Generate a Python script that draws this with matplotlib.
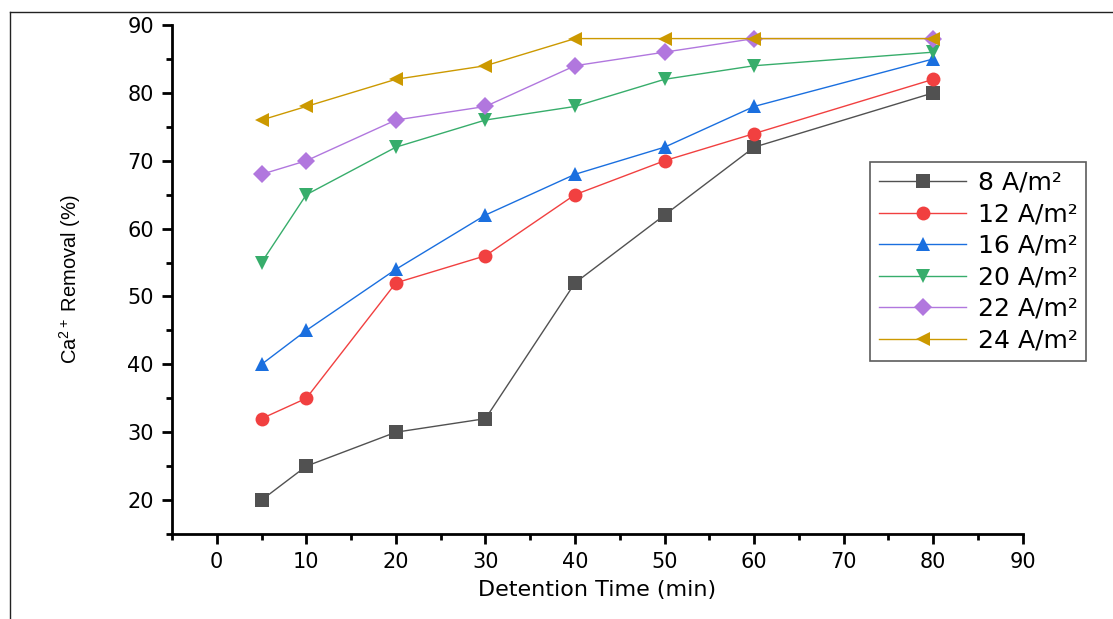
import numpy as np
import matplotlib.pyplot as plt
from matplotlib.lines import Line2D

# ---------------------------------------------------------------------------
# Data
# ---------------------------------------------------------------------------
time_min = [5, 10, 20, 30, 40, 50, 60, 80]

removal_8 = [20, 25, 30, 32, 52, 62, 72, 80]
removal_12 = [32, 35, 52, 56, 65, 70, 74, 82]
removal_16 = [40, 45, 54, 62, 68, 72, 78, 85]
removal_20 = [55, 65, 72, 76, 78, 82, 84, 86]
removal_22 = [68, 70, 76, 78, 84, 86, 88, 88]
removal_24 = [76, 78, 82, 84, 88, 88, 88, 88]

labels = ['8 A/m²', '12 A/m²', '16 A/m²', '20 A/m²', '22 A/m²', '24 A/m²']
x_ticks = [0, 10, 20, 30, 40, 50, 60, 70, 80, 90]
y_ticks = [20, 30, 40, 50, 60, 70, 80, 90]

# Origin style colours and markers
colors = ['#515151', '#F14040', '#1A6FDF', '#37AD6B', '#B177DE', '#CC9900']
markers = ['s', 'o', '^', 'v', 'D', '<']
msizes = [9.5, 10, 10.5, 10.5, 9.5, 10.5]

plt.rcParams['font.family'] = 'DejaVu Sans'
plt.rcParams['mathtext.fontset'] = 'custom'
plt.rcParams['mathtext.rm'] = 'Liberation Sans'
plt.rcParams['mathtext.it'] = 'Liberation Sans:italic'

fig = plt.figure(figsize=(11.13, 6.19), dpi=100)
ax = fig.add_axes([0.1545, 0.1373, 0.919 - 0.1545, 0.9596 - 0.1373])

series = [removal_8, removal_12, removal_16, removal_20, removal_22, removal_24]
for i, values in enumerate(series):
    ax.plot(time_min, values, color=colors[i], marker=markers[i], ms=msizes[i],
            lw=1.0, label=labels[i], markeredgewidth=0)

ax.set_xlim(-5, 90)
ax.set_ylim(15, 90)
ax.set_xticks(x_ticks)
ax.set_yticks(y_ticks)
ax.set_xticks(np.arange(-5, 90, 10), minor=True)
ax.set_yticks(np.arange(15, 90, 10), minor=True)

for side in ['top', 'right']:
    ax.spines[side].set_visible(False)
for side in ['left', 'bottom']:
    ax.spines[side].set_linewidth(2)

ax.tick_params(which='major', direction='out', length=7, width=2, labelsize=15, pad=6)
ax.tick_params(which='minor', direction='out', length=4, width=2)

ax.set_xlabel('Detention Time (min)', fontsize=16, labelpad=6)
ax.set_ylabel(r'Ca$^{\mathrm{2+}}$ Removal (%)', fontsize=14.5,
              family='Liberation Sans', labelpad=32)

leg = ax.legend(loc='upper left', bbox_to_anchor=(870 / 1113, 1 - 162 / 619),
                bbox_transform=fig.transFigure, fontsize=18, frameon=True,
                fancybox=False, edgecolor='#333333', handlelength=3.5,
                handletextpad=0.45, labelspacing=0.3, borderpad=0.35,
                borderaxespad=0)
leg.get_frame().set_linewidth(1.2)

# thin border of the cropped image (top and left edges)
fig.add_artist(Line2D([10 / 1113, 1], [1 - 12 / 619, 1 - 12 / 619],
                      transform=fig.transFigure, color='#222222', lw=1))
fig.add_artist(Line2D([10 / 1113, 10 / 1113], [0, 1 - 12 / 619],
                      transform=fig.transFigure, color='#222222', lw=1))

fig.savefig('out.png', dpi=100)
